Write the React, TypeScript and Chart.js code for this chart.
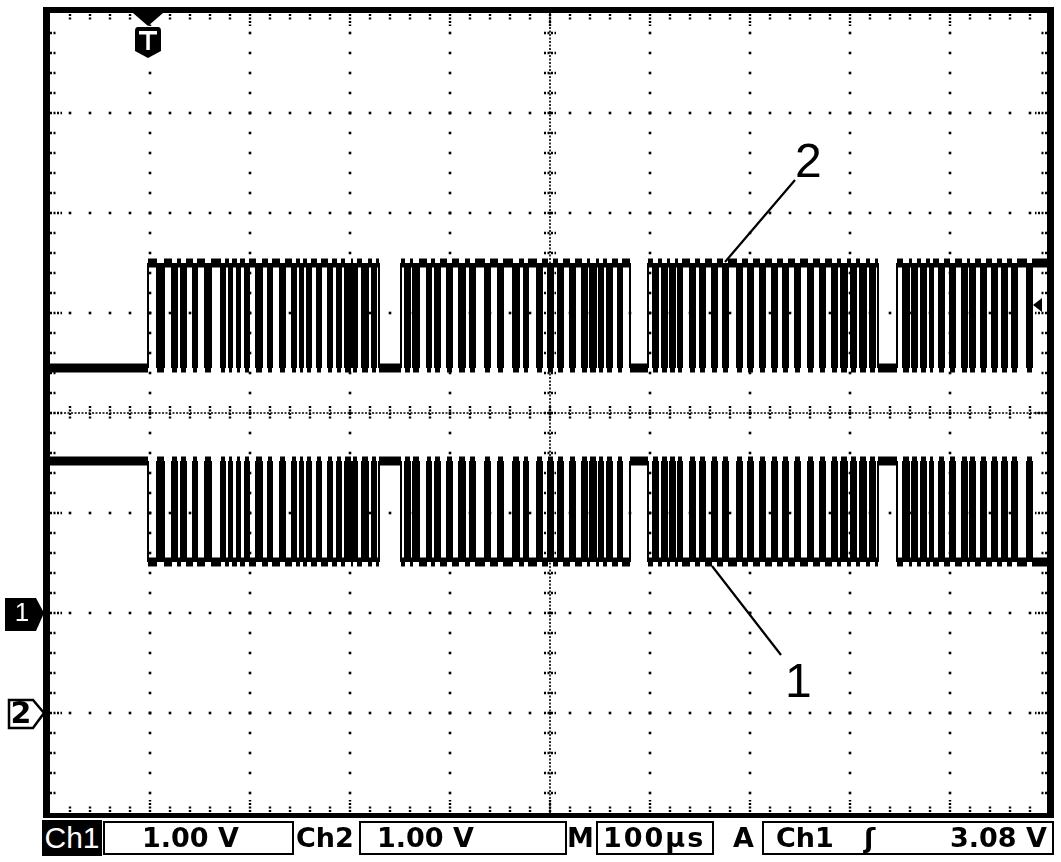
import React, { useEffect, useRef } from 'react';
import { Chart, registerables } from 'chart.js';

Chart.register(...registerables);

// ---- time base: 10 divisions × 100 µs ----
const timeMinUs = 0;
const timeMaxUs = 1000;
const timeMajorUs = [0, 100, 200, 300, 400, 500, 600, 700, 800, 900, 1000];
const divMin = 0;
const divMax = 8;
const divMajor = [0, 1, 2, 3, 4, 5, 6, 7, 8];

// ---- channel settings ----
const voltsPerDiv = 1.0;
const ch1GroundDiv = 2;
const ch2GroundDiv = 1;
const ch1IdleV = 1.52; // Ch1 idle (high) level
const ch1ActiveV = 0.51; // Ch1 active (low) level
const ch2IdleV = 3.45; // Ch2 idle (low) level
const ch2ActiveV = 4.5; // Ch2 active (high) level
const triggerTimeUs = 98;
const triggerLevelV = 3.08;

// ---- serial frames (µs from left edge of screen) ----
const frameStartsUs = [98, 351, 598, 847];
const frameEndsUs = [329, 580, 828, 1000];
const frame1PulsesUs = [
  [107, 114], [122, 127], [131, 136], [143, 147], [155, 161], [171, 175], [179, 182],
  [187, 190], [195, 199], [206, 212], [218, 222], [230, 235], [242, 246], [250, 253],
  [257, 261], [267, 271], [278, 282], [287, 291], [295, 301], [303, 307], [312, 318],
  [322, 326],
];
const frame2PulsesUs = [
  [355, 360], [363, 369], [377, 381], [385, 390], [397, 402], [409, 415], [420, 425],
  [435, 440], [448, 453], [463, 469], [474, 478], [487, 492], [498, 503], [508, 513],
  [520, 525], [532, 537], [540, 546], [549, 553], [557, 562], [568, 572],
];
const frame3PulsesUs = [
  [603, 608], [612, 617], [620, 625], [628, 632], [640, 645], [650, 655], [662, 667],
  [673, 678], [687, 692], [698, 703], [710, 715], [722, 727], [733, 738], [745, 750],
  [758, 763], [770, 775], [782, 787], [791, 797], [801, 806], [810, 816], [820, 825],
];
const frame4PulsesUs = [
  [853, 859], [862, 867], [871, 876], [880, 883], [889, 894], [900, 905], [912, 917],
  [920, 925], [931, 936], [942, 947], [952, 957], [962, 967], [977, 982],
];
const framePulses = [frame1PulsesUs, frame2PulsesUs, frame3PulsesUs, frame4PulsesUs];

const toDiv = (v: number, groundDiv: number) => groundDiv + v / voltsPerDiv;

function buildTrace(idleV: number, activeV: number, groundDiv: number) {
  const y = (v: number) => toDiv(v, groundDiv);
  const pts: { x: number; y: number }[] = [{ x: timeMinUs, y: y(idleV) }];
  frameStartsUs.forEach((s, i) => {
    pts.push({ x: s, y: y(idleV) }, { x: s, y: y(activeV) });
    for (const [a, b] of framePulses[i]) {
      pts.push({ x: a, y: y(activeV) }, { x: a, y: y(idleV) }, { x: b, y: y(idleV) }, { x: b, y: y(activeV) });
    }
    const e = frameEndsUs[i];
    if (e < timeMaxUs) pts.push({ x: e, y: y(activeV) }, { x: e, y: y(idleV) });
    else pts.push({ x: e, y: y(activeV) });
  });
  return pts;
}

function traceDataset(label: string, idleV: number, activeV: number, groundDiv: number) {
  const idleDiv = toDiv(idleV, groundDiv);
  return {
    label,
    data: buildTrace(idleV, activeV, groundDiv),
    borderColor: '#000',
    backgroundColor: '#000',
    borderWidth: 2,
    pointRadius: 0,
    tension: 0,
    fill: { value: toDiv(activeV, groundDiv) },
    segment: {
      borderWidth: (c: any) => (c.p0.parsed.x === c.p1.parsed.x ? 2 : 9),
      backgroundColor: (c: any) =>
        c.p0.parsed.y === idleDiv && c.p1.parsed.y === idleDiv && c.p1.parsed.x - c.p0.parsed.x > 15
          ? 'rgba(0,0,0,0)'
          : '#000',
    },
  };
}

const graticule = {
  id: 'graticule',
  beforeDatasetsDraw(chart: any) {
    const { ctx, scales } = chart;
    const xs = scales.x;
    const ys = scales.y;
    const X = (t: number) => xs.getPixelForValue(t);
    const Y = (d: number) => ys.getPixelForValue(d);
    const left = X(timeMinUs), right = X(timeMaxUs), top = Y(divMax), bottom = Y(divMin);
    ctx.save();
    ctx.fillStyle = '#000';
    ctx.strokeStyle = '#000';
    const dot = (x: number, y: number) => ctx.fillRect(x - 1.3, y - 1.3, 2.6, 2.6);
    for (const t of timeMajorUs) {
      if (t === timeMinUs || t === timeMaxUs || t === 500) continue;
      for (let j = 1; j < 40; j++) dot(X(t), Y(j / 5));
    }
    for (const d of divMajor) {
      if (d === divMin || d === divMax || d === 4) continue;
      for (let j = 1; j < 50; j++) dot(X(j * 20), Y(d));
    }
    ctx.lineWidth = 1.6;
    ctx.setLineDash([2, 1.5]);
    ctx.beginPath();
    ctx.moveTo(left, Y(4)); ctx.lineTo(right, Y(4));
    ctx.moveTo(X(500), top); ctx.lineTo(X(500), bottom);
    ctx.stroke();
    ctx.lineWidth = 2.4;
    ctx.setLineDash([2, 1.5]);
    ctx.beginPath();
    for (let j = 1; j < 50; j++) {
      const x = X(j * 20);
      ctx.moveTo(x, Y(4) - 7); ctx.lineTo(x, Y(4) + 7);
    }
    for (let j = 1; j < 40; j++) {
      const y = Y(j / 5);
      ctx.moveTo(X(500) - 6, y); ctx.lineTo(X(500) + 6, y);
    }
    for (let j = 1; j < 50; j++) {
      const x = X(j * 20);
      const len = j % 5 === 0 ? 12 : 6;
      ctx.moveTo(x, top + 1); ctx.lineTo(x, top + 1 + len);
      ctx.moveTo(x, bottom - 1); ctx.lineTo(x, bottom - 1 - len);
    }
    for (let j = 1; j < 40; j++) {
      const y = Y(j / 5);
      const len = j % 5 === 0 ? 12 : 6;
      ctx.moveTo(left, y); ctx.lineTo(left + len, y);
      ctx.moveTo(right - 3, y); ctx.lineTo(right - 3 - len, y);
    }
    ctx.stroke();
    ctx.restore();
  },
  afterDatasetsDraw(chart: any) {
    const { ctx, scales } = chart;
    const xs = scales.x;
    const ys = scales.y;
    const X = (t: number) => xs.getPixelForValue(t);
    const Y = (d: number) => ys.getPixelForValue(d);
    const left = X(timeMinUs), right = X(timeMaxUs), top = Y(divMax), bottom = Y(divMin);
    ctx.save();
    ctx.fillStyle = '#000';
    ctx.fillRect(left - 7, top - 6, right - left + 11, 6);
    ctx.fillRect(left - 7, top - 6, 7, bottom - top + 11);
    ctx.fillRect(right - 3, top - 6, 7, bottom - top + 11);
    ctx.fillRect(left - 7, bottom, right - left + 11, 5);

    const tx = X(triggerTimeUs);
    ctx.beginPath();
    ctx.moveTo(tx - 15, top); ctx.lineTo(tx + 15, top); ctx.lineTo(tx, top + 13); ctx.closePath();
    ctx.fill();
    ctx.beginPath();
    ctx.moveTo(tx - 10, top + 14);
    ctx.lineTo(tx + 10, top + 14);
    ctx.quadraticCurveTo(tx + 13, top + 14, tx + 13, top + 18);
    ctx.lineTo(tx + 13, top + 38);
    ctx.lineTo(tx, top + 45);
    ctx.lineTo(tx - 13, top + 38);
    ctx.lineTo(tx - 13, top + 18);
    ctx.quadraticCurveTo(tx - 13, top + 14, tx - 10, top + 14);
    ctx.closePath();
    ctx.fill();
    ctx.fillStyle = '#fff';
    ctx.fillRect(tx - 9, top + 18, 18, 3.5);
    ctx.fillRect(tx - 1.7, top + 18, 3.5, 19);

    const y1 = Y(ch1GroundDiv);
    ctx.fillStyle = '#000';
    ctx.beginPath();
    ctx.moveTo(5, y1 - 15); ctx.lineTo(36, y1 - 15); ctx.lineTo(44, y1); ctx.lineTo(36, y1 + 18);
    ctx.lineTo(5, y1 + 18); ctx.closePath();
    ctx.fill();
    ctx.fillStyle = '#fff';
    ctx.font = '26px "Liberation Sans", sans-serif';
    ctx.textAlign = 'center';
    ctx.textBaseline = 'middle';
    ctx.fillText('1', 22, y1 + 1);

    const y2 = Y(ch2GroundDiv);
    ctx.strokeStyle = '#000';
    ctx.lineWidth = 2.5;
    ctx.beginPath();
    ctx.moveTo(9, y2 - 13); ctx.lineTo(33, y2 - 13); ctx.lineTo(44, y2); ctx.lineTo(33, y2 + 15);
    ctx.lineTo(9, y2 + 15); ctx.closePath();
    ctx.stroke();
    ctx.fillStyle = '#000';
    ctx.font = 'bold 30px "DejaVu Sans", sans-serif';
    ctx.fillText('2', 21, y2 + 2);

    const yt = Y(ch1GroundDiv + triggerLevelV / voltsPerDiv);
    ctx.beginPath();
    ctx.moveTo(right - 17, yt); ctx.lineTo(right - 8, yt - 7); ctx.lineTo(right - 8, yt + 7); ctx.closePath();
    ctx.fill();

    ctx.lineWidth = 2.2;
    ctx.beginPath();
    ctx.moveTo(795, 180); ctx.lineTo(725, 262);
    ctx.moveTo(781, 655); ctx.lineTo(712, 566);
    ctx.stroke();
    ctx.restore();
  },
};

const boxText: React.CSSProperties = {
  position: 'absolute',
  fontFamily: '"DejaVu Sans", sans-serif',
  fontWeight: 'bold',
  fontSize: 27,
  lineHeight: '27px',
  color: '#000',
  whiteSpace: 'nowrap',
};

export default function App() {
  const ref = useRef<HTMLCanvasElement>(null);
  useEffect(() => {
    const chart = new Chart(ref.current!, {
      type: 'line',
      data: {
        datasets: [
          traceDataset('Ch2', ch2IdleV, ch2ActiveV, ch2GroundDiv),
          traceDataset('Ch1', ch1IdleV, ch1ActiveV, ch1GroundDiv),
        ] as any,
      },
      options: {
        animation: false,
        responsive: false,
        maintainAspectRatio: false,
        layout: { padding: { left: 50, right: 11, top: 13, bottom: 49 } },
        parsing: false as any,
        normalized: true,
        scales: {
          x: { type: 'linear', min: timeMinUs, max: timeMaxUs, display: false },
          y: { type: 'linear', min: divMin, max: divMax, display: false },
        },
        plugins: { legend: { display: false }, tooltip: { enabled: false } },
      },
      plugins: [graticule],
    });
    return () => chart.destroy();
  }, []);

  return (
    <div style={{ position: 'fixed', left: 0, top: 0, width: 1061, height: 862, background: '#fff', overflow: 'hidden' }}>
      <canvas ref={ref} width={1061} height={862} style={{ position: 'absolute', left: 0, top: 0 }} />
      <div style={{ position: 'absolute', left: 795, top: 137, fontFamily: '"Liberation Sans", sans-serif', fontSize: 48, lineHeight: '48px' }}>2</div>
      <div style={{ position: 'absolute', left: 785, top: 657, fontFamily: '"Liberation Sans", sans-serif', fontSize: 48, lineHeight: '48px' }}>1</div>
      <div style={{ position: 'absolute', left: 42, top: 820, width: 60, height: 36, background: '#000', color: '#fff', fontFamily: '"Liberation Sans", sans-serif', fontSize: 30, lineHeight: '36px', textAlign: 'center' }}>Ch1</div>
      <div style={{ position: 'absolute', left: 103, top: 821, width: 187, height: 30, border: '2px solid #000' }} />
      <div style={{ ...boxText, left: 142, top: 824 }}>1.00 V</div>
      <div style={{ ...boxText, left: 296, top: 824 }}>Ch2</div>
      <div style={{ position: 'absolute', left: 359, top: 821, width: 204, height: 30, border: '2px solid #000' }} />
      <div style={{ ...boxText, left: 377, top: 824 }}>1.00 V</div>
      <div style={{ ...boxText, left: 567, top: 824 }}>M</div>
      <div style={{ position: 'absolute', left: 596, top: 821, width: 114, height: 30, border: '2px solid #000' }} />
      <div style={{ ...boxText, left: 603, top: 824, letterSpacing: 2 }}>100µs</div>
      <div style={{ ...boxText, left: 733, top: 824 }}>A</div>
      <div style={{ position: 'absolute', left: 762, top: 821, width: 288, height: 30, border: '2px solid #000' }} />
      <div style={{ ...boxText, left: 776, top: 824 }}>Ch1</div>
      <div style={{ ...boxText, left: 864, top: 824 }}>ʃ</div>
      <div style={{ ...boxText, left: 950, top: 824 }}>3.08 V</div>
    </div>
  );
}
